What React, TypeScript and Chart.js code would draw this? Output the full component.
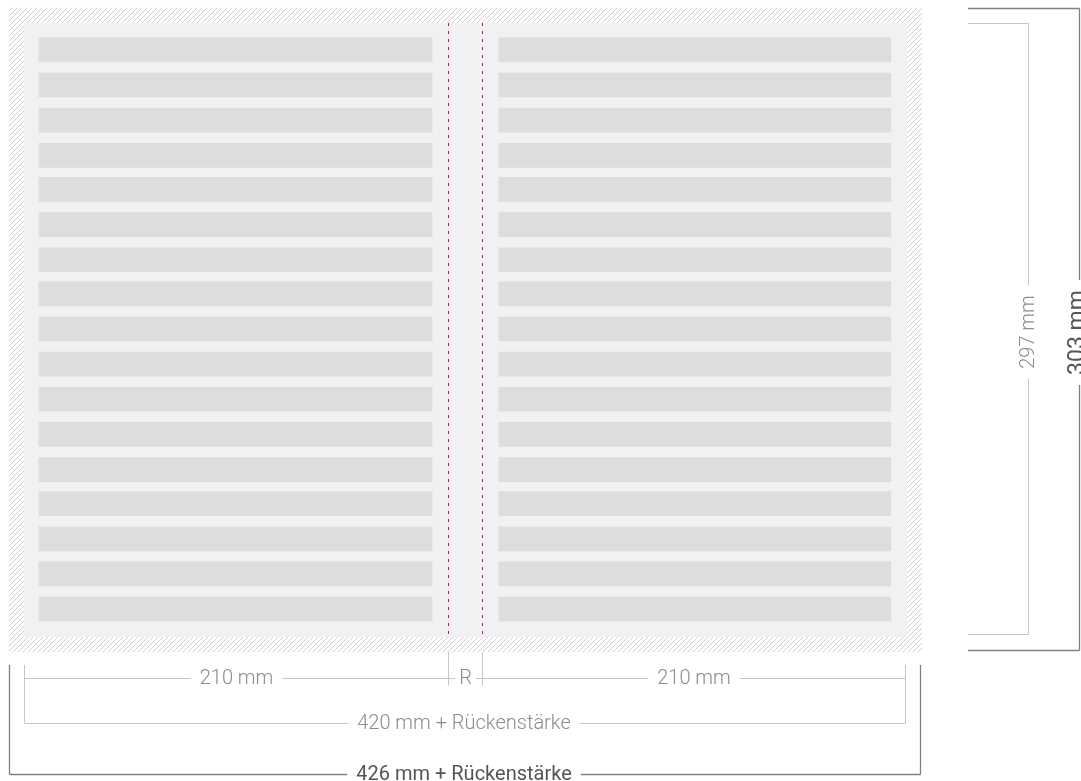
import React, { useEffect, useRef } from 'react';
import { Chart, registerables } from 'chart.js';

Chart.register(...registerables);

// ---- data (schematic millimetres) ----
const pageWidthMm = 210;
const pageHeightMm = 297;
const spineDraw = 17.6; // spine drawn at schematic width
const bleedDraw = 7.4; // 3 mm bleed drawn at schematic width
const rowCenters = [13, 30, 47, 64, 80.5, 97.5, 114.5, 131, 148, 165, 182, 199, 216, 232.5, 249.5, 266.5, 283.5];
const leftBar = [7.4, 202.2];
const rightBar = [235.3, 429.6];
const pageLabel = '210 mm';
const spineLabel = 'R';
const innerLabel = '420 mm + Rückenstärke';
const outerLabel = '426 mm + Rückenstärke';
const heightLabel = '297 mm';
const heightBleedLabel = '303 mm';

const totalWidth = pageWidthMm * 2 + spineDraw;

const LIGHT_LINE = '#c6c6c6';
const DARK_LINE = '#808080';
const LIGHT_TEXT = '#8c8c8c';
const DARK_TEXT = '#555555';
const FONT_LIGHT = '300 20px Roboto, "Open Sans", sans-serif';
const FONT_DARK = '400 20px Roboto, "Open Sans", sans-serif';
const FONT_DARK_BIG = '400 23px Roboto, "Open Sans", sans-serif';

function makeHatch(): CanvasPattern | string {
  const p = 5;
  const c = document.createElement('canvas');
  c.width = p;
  c.height = p;
  const g = c.getContext('2d');
  if (!g) return '#ddd';
  g.fillStyle = '#ffffff';
  g.fillRect(0, 0, p, p);
  g.strokeStyle = '#c9c9c9';
  g.lineWidth = 0.9;
  g.beginPath();
  g.moveTo(-1, p + 1);
  g.lineTo(p + 1, -1);
  g.moveTo(-1, 1);
  g.lineTo(1, -1);
  g.moveTo(p - 1, p + 1);
  g.lineTo(p + 1, p - 1);
  g.stroke();
  const pat = g.createPattern(c, 'repeat');
  return pat || '#ddd';
}

function line(ctx: CanvasRenderingContext2D, x1: number, y1: number, x2: number, y2: number, color: string, w = 1) {
  ctx.save();
  ctx.strokeStyle = color;
  ctx.lineWidth = w;
  ctx.beginPath();
  ctx.moveTo(x1, y1);
  ctx.lineTo(x2, y2);
  ctx.stroke();
  ctx.restore();
}

function hDim(ctx: CanvasRenderingContext2D, x1: number, x2: number, y: number, text: string, cx: number, font: string, tColor: string, lColor: string, lw = 1) {
  ctx.save();
  ctx.font = font;
  const w = ctx.measureText(text).width;
  const gap = 9;
  line(ctx, x1, y, cx - w / 2 - gap, y, lColor, lw);
  line(ctx, cx + w / 2 + gap, y, x2, y, lColor, lw);
  ctx.fillStyle = tColor;
  ctx.textAlign = 'center';
  ctx.textBaseline = 'middle';
  ctx.fillText(text, cx, y);
  ctx.restore();
}

const diagramPlugin = {
  id: 'diagram',
  beforeDatasetsDraw(chart: any) {
    const ctx: CanvasRenderingContext2D = chart.ctx;
    const xs = (v: number) => chart.scales.x.getPixelForValue(v);
    const ys = (v: number) => chart.scales.y.getPixelForValue(v);
    const oL = xs(-bleedDraw), oR = xs(totalWidth + bleedDraw);
    const oT = ys(-bleedDraw), oB = ys(pageHeightMm + bleedDraw);
    const L = xs(0), R = xs(totalWidth), T = ys(0), B = ys(pageHeightMm);
    ctx.save();
    ctx.fillStyle = makeHatch() as any;
    ctx.fillRect(oL, oT, oR - oL, oB - oT);
    ctx.fillStyle = '#f0f1f3';
    ctx.fillRect(L, T, R - L, B - T);
    ctx.restore();
  },
  afterDatasetsDraw(chart: any) {
    const ctx: CanvasRenderingContext2D = chart.ctx;
    const xs = (v: number) => chart.scales.x.getPixelForValue(v);
    const ys = (v: number) => chart.scales.y.getPixelForValue(v);
    const T = ys(0), B = ys(pageHeightMm);
    const spL = Math.round(xs(pageWidthMm)) + 0.5;
    const spR = Math.round(xs(pageWidthMm + spineDraw)) - 0.5;
    ctx.save();
    ctx.strokeStyle = '#e2007a';
    ctx.lineWidth = 1;
    ctx.setLineDash([3, 5]);
    ctx.beginPath();
    ctx.moveTo(spL, T);
    ctx.lineTo(spL, B);
    ctx.moveTo(spR, T);
    ctx.lineTo(spR, B);
    ctx.stroke();
    ctx.restore();
  },
  afterDraw(chart: any) {
    const ctx: CanvasRenderingContext2D = chart.ctx;
    const xs = (v: number) => chart.scales.x.getPixelForValue(v);
    const ys = (v: number) => chart.scales.y.getPixelForValue(v);
    const r = (v: number) => Math.round(v) + 0.5;
    const oL = r(xs(-bleedDraw)), oR = r(xs(totalWidth + bleedDraw)) - 2;
    const oT = ys(-bleedDraw), oB = ys(pageHeightMm + bleedDraw);
    const L = r(xs(0)), R = r(xs(totalWidth)) - 2;
    const T = ys(0), B = ys(pageHeightMm);
    const spL = r(xs(pageWidthMm));
    const spR = r(xs(pageWidthMm + spineDraw)) - 1;

    // ---- bottom dimensions ----
    const yTop = Math.round(oB + 13);
    const y210 = r(oB + 26);
    const y420 = r(oB + 71);
    const y426 = r(oB + 122);

    line(ctx, L, yTop, L, y420, LIGHT_LINE);
    line(ctx, R, yTop, R, y420, LIGHT_LINE);
    line(ctx, spL, oB, spL, oB + 33, LIGHT_LINE);
    line(ctx, spR, oB, spR, oB + 33, LIGHT_LINE);

    hDim(ctx, L, spL, y210, pageLabel, (L + spL) / 2, FONT_LIGHT, LIGHT_TEXT, LIGHT_LINE);
    hDim(ctx, spR, R, y210, pageLabel, (spR + R) / 2, FONT_LIGHT, LIGHT_TEXT, LIGHT_LINE);
    // spine "R"
    ctx.save();
    ctx.font = FONT_LIGHT;
    const rw = ctx.measureText(spineLabel).width;
    const spC = (spL + spR) / 2;
    line(ctx, spL, y210, spC - rw / 2 - 4, y210, LIGHT_LINE);
    line(ctx, spC + rw / 2 + 4, y210, spR, y210, LIGHT_LINE);
    ctx.fillStyle = LIGHT_TEXT;
    ctx.textAlign = 'center';
    ctx.textBaseline = 'middle';
    ctx.fillText(spineLabel, spC, y210);
    ctx.restore();

    hDim(ctx, L, R, y420, innerLabel, (L + R) / 2 - 1, FONT_LIGHT, LIGHT_TEXT, LIGHT_LINE);

    line(ctx, oL, yTop, oL, y426, DARK_LINE, 1.3);
    line(ctx, oR, yTop, oR, y426, DARK_LINE, 1.3);
    hDim(ctx, oL, oR, y426, outerLabel, (L + R) / 2 - 1, FONT_DARK, DARK_TEXT, DARK_LINE, 1.3);

    // ---- right dimensions ----
    const xStart = Math.round(xs(totalWidth) + 61);
    const x297 = r(xs(totalWidth) + 121);
    const x303 = r(xs(totalWidth) + 172);
    const t297 = r(T), b297 = r(B - 3);
    const t303 = r(oT), b303 = r(oB - 2);

    line(ctx, xStart, t297, x297, t297, LIGHT_LINE);
    line(ctx, xStart, b297, x297, b297, LIGHT_LINE);
    line(ctx, xStart, t303, x303, t303, DARK_LINE, 1.3);
    line(ctx, xStart, b303, x303, b303, DARK_LINE, 1.3);

    const vDim = (x: number, y1: number, y2: number, text: string, tx: number, font: string, tColor: string, lColor: string, lw: number, baseline: CanvasTextBaseline) => {
      ctx.save();
      ctx.font = font;
      const w = ctx.measureText(text).width;
      const cy = (y1 + y2) / 2 + 3;
      const gap = 10;
      line(ctx, x, y1, x, cy - w / 2 - gap, lColor, lw);
      line(ctx, x, cy + w / 2 + gap, x, y2, lColor, lw);
      ctx.translate(tx, cy);
      ctx.rotate(-Math.PI / 2);
      ctx.fillStyle = tColor;
      ctx.textAlign = 'center';
      ctx.textBaseline = baseline;
      ctx.fillText(text, 0, 0);
      ctx.restore();
    };
    vDim(x297, t297, b297, heightLabel, x297, FONT_LIGHT, LIGHT_TEXT, LIGHT_LINE, 1, 'middle');
    vDim(x303, t303, b303, heightBleedLabel, x303 + 4, FONT_DARK_BIG, DARK_TEXT, DARK_LINE, 1.3, 'alphabetic');
  },
};

export default function App() {
  const ref = useRef<HTMLCanvasElement | null>(null);
  useEffect(() => {
    document.body.style.margin = '0';
    const canvas = ref.current;
    if (!canvas) return;
    const chart = new Chart(canvas, {
      type: 'bar',
      data: {
        datasets: [
          {
            label: 'Linke Seite',
            data: rowCenters.map((y) => ({ y, x: leftBar })) as any,
            backgroundColor: '#dcdddf',
            borderWidth: 0,
          },
          {
            label: 'Rechte Seite',
            data: rowCenters.map((y) => ({ y, x: rightBar })) as any,
            backgroundColor: '#dcdddf',
            borderWidth: 0,
          },
        ],
      },
      options: {
        indexAxis: 'y',
        responsive: false,
        animation: false,
        devicePixelRatio: 1,
        grouped: false,
        barThickness: 24,
        layout: { padding: { left: 24, right: 174, top: 23, bottom: 144 } },
        plugins: { legend: { display: false }, tooltip: { enabled: false } },
        scales: {
          x: { type: 'linear', min: 0, max: totalWidth, display: false, offset: false },
          y: { type: 'linear', min: 0, max: pageHeightMm, reverse: true, display: false, offset: false },
        },
      } as any,
      plugins: [diagramPlugin],
    });
    return () => chart.destroy();
  }, []);
  return (
    <div style={{ position: 'absolute', left: 0, top: 0, width: 1081, height: 781, background: '#fff' }}>
      <canvas ref={ref} width={1081} height={781} />
    </div>
  );
}
